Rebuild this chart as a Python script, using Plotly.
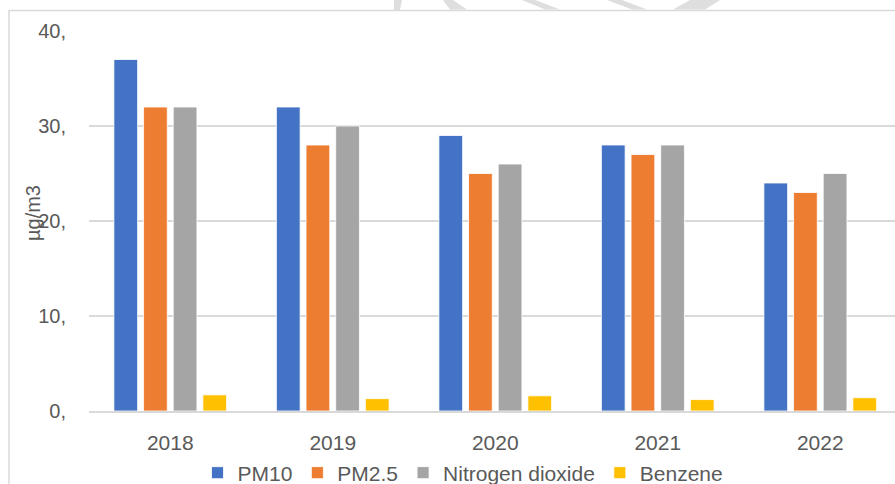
import plotly.graph_objects as go

years = ["2018", "2019", "2020", "2021", "2022"]
pm10 = [37, 32, 29, 28, 24]
pm25 = [32, 28, 25, 27, 23]
no2 = [32, 30, 26, 28, 25]
benzene = [1.7, 1.3, 1.6, 1.2, 1.4]
y_ticks = [0, 10, 20, 30, 40]
y_tick_text = ["0,", "10,", "20,", "30,", "40,"]
series_names = ["PM10", "PM2.5", "Nitrogen dioxide", "Benzene"]
series_colors = ["#4472C4", "#ED7D31", "#A5A5A5", "#FFC000"]

W, H = 895, 484
L, T, B, R = 89, 31, 73, 0
pw, ph = W - L - R, H - T - B

def px_x(x):
    return (x - L) / pw

def px_y(y):
    return (H - B - y) / ph

fig = go.Figure()
xs = list(range(len(years)))
for name, vals, col in zip(series_names, [pm10, pm25, no2, benzene], series_colors):
    fig.add_trace(go.Bar(
        x=xs, y=vals, name=name,
        marker=dict(color=col, line=dict(color="white", width=0.8)),
    ))

shapes = [
    dict(type="line", xref="paper", yref="paper", x0=px_x(9), x1=px_x(9), y0=px_y(10), y1=px_y(500),
         line=dict(color="#D9D9D9", width=1.5)),
    dict(type="line", xref="paper", yref="paper", x0=px_x(9), x1=px_x(900), y0=px_y(10.5), y1=px_y(10.5),
         line=dict(color="#D9D9D9", width=1.5)),
]
# watermark fragments above the chart frame
wm = [
    [(394, 0), (402, 0), (400, 10), (394, 10)],
    [(443, 0), (453, 0), (467, 9.5), (450, 9.5)],
    [(522, 0), (535, 0), (560, 9.5), (545, 9.5)],
    [(607, 0), (622, 0), (647, 9.5), (632, 9.5)],
    [(690, 0), (720, 0), (705, 9.5), (673, 9.5)],
]
for poly in wm:
    path = "M " + " L ".join(f"{px_x(x)},{px_y(y)}" for x, y in poly) + " Z"
    shapes.append(dict(type="path", xref="paper", yref="paper", path=path,
                       fillcolor="#DEDEDE", line=dict(width=0), layer="below"))

fig.update_layout(
    width=W, height=H,
    margin=dict(l=L, r=R, t=T, b=B, pad=0, autoexpand=False),
    paper_bgcolor="white", plot_bgcolor="white",
    font=dict(family="Liberation Sans, Arial, sans-serif", color="#595959", size=20),
    barmode="group", bargap=0.27, bargroupgap=0.2,
    showlegend=True,
    legend=dict(orientation="h", x=px_x(463), xanchor="center",
                yref="container", y=(H - 473) / H, yanchor="middle",
                font=dict(size=21, color="#595959"), itemwidth=30, tracegroupgap=0,
                bgcolor="rgba(0,0,0,0)"),
    xaxis=dict(tickmode="array", tickvals=xs, ticktext=years, range=[-0.5, 4.46],
               showgrid=False, zeroline=False, showline=True, linecolor="#D9D9D9", linewidth=1.5,
               ticks="", ticklabelstandoff=12, tickfont=dict(size=21)),
    yaxis=dict(range=[0, 40], tickmode="array", tickvals=y_ticks, ticktext=y_tick_text,
               showgrid=True, gridcolor="#D9D9D9", gridwidth=1.5, zeroline=False, showline=False,
               ticks="", ticklabelstandoff=22, tickfont=dict(size=20)),
    annotations=[dict(text="µg/m3", textangle=-90, xref="paper", yref="paper",
                      x=px_x(33), y=px_y(213), xanchor="center", yanchor="middle",
                      showarrow=False, font=dict(size=20, color="#595959"))],
    shapes=shapes,
)

fig.write_html("out.html", config={"displayModeBar": False},
               post_script="document.body.style.margin='0px';document.body.style.overflow='hidden';")
